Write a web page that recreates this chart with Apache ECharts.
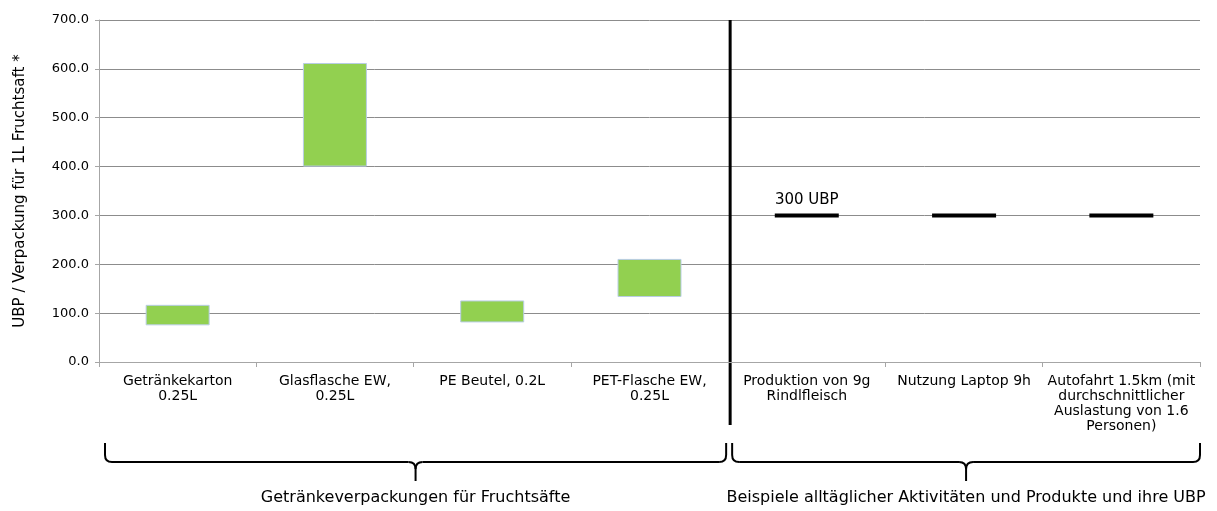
<!DOCTYPE html>
<html>
<head>
<meta charset="utf-8">
<script src="https://cdn.jsdelivr.net/npm/echarts@6/dist/echarts.min.js"></script>
<style>
  html, body { margin: 0; padding: 0; background: #fff; }
  #chart { width: 1217px; height: 511px; }
</style>
</head>
<body>
<div id="chart"></div>
<script>
// Kategorien (x-Achse)
const categories = [
    "Getränkekarton\n0.25L",
    "Glasflasche EW,\n0.25L",
    "PE Beutel, 0.2L",
    "PET-Flasche EW,\n0.25L",
    "Produktion von 9g\nRindlfleisch",
    "Nutzung Laptop 9h",
    "Autofahrt 1.5km (mit\ndurchschnittlicher\nAuslastung von 1.6\nPersonen)"
];
// Bandbreite der Verpackungen (UBP)
const lowValues = [75, 400, 81, 133, null, null, null];
const highValues = [117, 612, 126, 211, null, null, null];
// Vergleichswerte alltäglicher Aktivitäten
const compareValues = [null, null, null, null, 300, 300, 300];
const yTicks = [0, 100, 200, 300, 400, 500, 600, 700];
// Gruppen unter der Achse
const groupLabels = ["Getränkeverpackungen für Fruchtsäfte", "Beispiele alltäglicher Aktivitäten und Produkte und ihre UBP"];
const groupSplit = 4; // erste Gruppe = Kategorien 0..3

const FONT = "'DejaVu Sans', sans-serif";

const chart = echarts.init(document.getElementById('chart'));

chart.setOption({
    animation: false,
    grid: {left: 99, right: 17, top: 20, bottom: 149},
    xAxis: {
        type: "category",
        data: categories,
        axisLine: {lineStyle: {color: "#a6a6a6", width: 1}},
        axisTick: {show: true, length: 5, lineStyle: {color: "#a6a6a6"}},
        axisLabel: {color: "#000", fontSize: 14, fontFamily: FONT, lineHeight: 15, margin: 12, interval: 0}
    },
    yAxis: {
        type: "value",
        min: yTicks[0],
        max: yTicks[yTicks.length - 1],
        interval: 100,
        name: "UBP / Verpackung für 1L Fruchtsaft *",
        nameLocation: "middle",
        nameRotate: 90,
        nameGap: 71,
        nameTextStyle: {color: "#000", fontSize: 15, fontFamily: FONT},
        axisLine: {show: true, lineStyle: {color: "#a6a6a6"}},
        axisTick: {show: true, length: 4, lineStyle: {color: "#a6a6a6"}},
        axisLabel: {color: "#000", fontSize: 13, fontFamily: FONT, margin: 10,
            formatter: v => v.toFixed(1)},
        splitLine: {lineStyle: {color: "#8c8c8c", width: 1}}
    },
    series: [
        {
            // unsichtbare Basis
            type: "bar",
            stack: "range",
            barWidth: 64,
            data: lowValues,
            itemStyle: {color: "transparent"},
            silent: true
        },
        {
            type: "bar",
            stack: "range",
            barWidth: 64,
            data: highValues.map((h, i) => h == null ? null : h - lowValues[i]),
            itemStyle: {color: "#92d050", borderColor: "#b9cde5", borderWidth: 1}
        },
        {
            type: "scatter",
            data: compareValues,
            symbol: "rect",
            symbolSize: [64, 4],
            itemStyle: {color: "#000", opacity: 1},
            label: {
                show: true,
                position: "top",
                distance: 6,
                color: "#000",
                fontSize: 15,
                fontFamily: FONT,
                formatter: p => p.dataIndex === 4 ? p.value + " UBP" : ""
            }
        }
    ]
});

// Trennlinie und Klammern aus den Achsenpositionen ableiten
const drawAnnotations = () => {
    const cx = i => chart.convertToPixel({xAxisIndex: 0}, i);
    const band = cx(1) - cx(0);
    const left = cx(0) - band / 2;
    const right = cx(categories.length - 1) + band / 2;
    const split = cx(groupSplit) - band / 2;
    const top = chart.convertToPixel({yAxisIndex: 0}, yTicks[yTicks.length - 1]);

    const braceTop = 443, braceY = 462, tipY = 481, r = 7;
    const stroke = {stroke: "#000", lineWidth: 2, fill: null};
    const seg = (x1, y1, x2, y2) => ({type: "line", shape: {x1, y1, x2, y2}, style: stroke});
    const curve = (x1, y1, cpx1, cpy1, x2, y2) => ({type: "bezierCurve", shape: {x1, y1, cpx1, cpy1, x2, y2}, style: stroke});
    const brace = (x1, x2) => {
        const m = (x1 + x2) / 2;
        return [
            seg(x1, braceTop, x1, braceY - r),
            curve(x1, braceY - r, x1, braceY, x1 + r, braceY),
            seg(x1 + r, braceY, m - r, braceY),
            curve(m - r, braceY, m, braceY, m, braceY + r),
            curve(m + r, braceY, m, braceY, m, braceY + r),
            seg(m, braceY + r, m, tipY),
            seg(m + r, braceY, x2 - r, braceY),
            curve(x2 - r, braceY, x2, braceY, x2, braceY - r),
            seg(x2, braceY - r, x2, braceTop)
        ];
    };
    const b1 = [left + 6, split - 2];
    const b2 = [split + 4, right];
    const label = (text, x) => ({type: "text", style: {text, x, y: 498,
        textAlign: "center", textVerticalAlign: "middle", fontSize: 16, fontFamily: FONT, fill: "#000"}});

    chart.setOption({
        graphic: [
            {type: "line", shape: {x1: split + 2, y1: top, x2: split + 2, y2: 425},
                style: {stroke: "#000", lineWidth: 3}},
            ...brace(b1[0], b1[1]),
            ...brace(b2[0], b2[1]),
            label(groupLabels[0], (b1[0] + b1[1]) / 2),
            label(groupLabels[1], (b2[0] + b2[1]) / 2)
        ]
    });
};
drawAnnotations();
</script>
</body>
</html>
